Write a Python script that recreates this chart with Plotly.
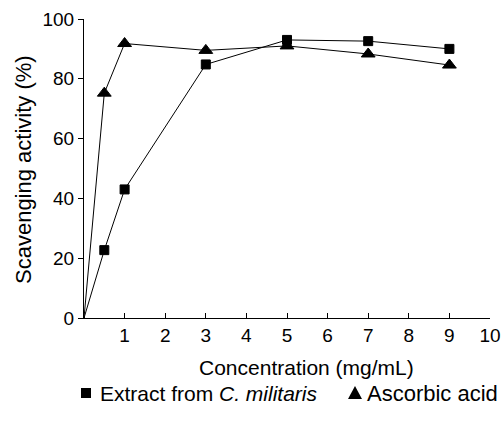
import plotly.graph_objects as go

conc_extract = [0, 0.5, 1, 3, 5, 7, 9]
extract_vals = [0, 22.7, 43, 84.8, 93, 92.6, 90]
conc_ascorbic = [0, 0.5, 1, 3, 5, 7, 9]
ascorbic_vals = [0, 75.2, 91.8, 89.5, 91, 88.3, 84.6]
x_ticks = [1, 2, 3, 4, 5, 6, 7, 8, 9, 10]
y_ticks = [0, 20, 40, 60, 80, 100]

FONT = "Liberation Sans, Arial, sans-serif"
FT = 19   # tick labels
FS = 21   # titles and legend

L, R, T, B = 84, 490, 19, 318
W, H = 503, 423


def px(x):
    return (x - L) / (R - L)


def py(y):
    return (B - y) / (B - T)


fig = go.Figure()
fig.add_trace(go.Scatter(
    x=conc_extract, y=extract_vals, mode="lines+markers",
    name="Extract from <i>C. militaris</i>",
    line=dict(color="black", width=1),
    marker=dict(symbol=["circle"] + ["square"] * 6, size=[1] + [9] * 6, color="black",
                line=dict(color="black", width=1), opacity=1),
    showlegend=False, cliponaxis=False))
fig.add_trace(go.Scatter(
    x=conc_ascorbic, y=ascorbic_vals, mode="lines+markers",
    name="Ascorbic acid",
    line=dict(color="black", width=1),
    marker=dict(symbol=["circle"] + ["triangle-up"] * 6, size=[1] + [12] * 6, color="black",
                line=dict(color="black", width=1), opacity=1),
    showlegend=False, cliponaxis=False))

ly = py(393)
fig.update_layout(
    width=W, height=H,
    margin=dict(l=L, r=W - R, t=T, b=H - B, autoexpand=False),
    paper_bgcolor="white", plot_bgcolor="white",
    font=dict(family=FONT, size=FT, color="black"),
    showlegend=False,
    xaxis=dict(range=[0, 10], tickvals=x_ticks, ticks="inside", ticklen=5,
               tickcolor="black", showline=True, linecolor="black", linewidth=1,
               showgrid=False, zeroline=False, tickfont=dict(size=FT),
               automargin=False),
    yaxis=dict(range=[0, 100], tickvals=y_ticks, ticks="outside", ticklen=5,
               tickcolor="black", showline=True, linecolor="black", linewidth=1,
               showgrid=False, zeroline=False, tickfont=dict(size=FT),
               automargin=False),
    shapes=[
        dict(type="rect", xref="paper", yref="paper",
             x0=px(81), x1=px(91), y0=py(398), y1=py(388),
             fillcolor="black", line=dict(width=0)),
        dict(type="path", xref="paper", yref="paper",
             path="M {} {} L {} {} L {} {} Z".format(
                 px(348), py(399), px(362), py(399), px(355), py(386)),
             fillcolor="black", line=dict(width=0)),
    ],
    annotations=[
        dict(text="Concentration (mg/mL)", xref="paper", yref="paper",
             x=px(306), y=py(367), xanchor="center", yanchor="middle",
             showarrow=False, font=dict(size=FS)),
        dict(text="Scavenging activity (%)", xref="paper", yref="paper",
             x=px(23), y=py(170), xanchor="center", yanchor="middle",
             textangle=-90, showarrow=False, font=dict(size=FS + 1)),
        dict(text="Extract from <i>C. militaris</i>", xref="paper", yref="paper",
             x=px(98), y=ly, xanchor="left", yanchor="middle",
             showarrow=False, font=dict(size=FS)),
        dict(text="Ascorbic acid", xref="paper", yref="paper",
             x=px(365), y=ly, xanchor="left", yanchor="middle",
             showarrow=False, font=dict(size=FS + 1)),
    ],
)

fig.write_html("out.html",
               config={"displayModeBar": False},
               post_script="document.body.style.margin='0';document.body.style.overflow='hidden';")
